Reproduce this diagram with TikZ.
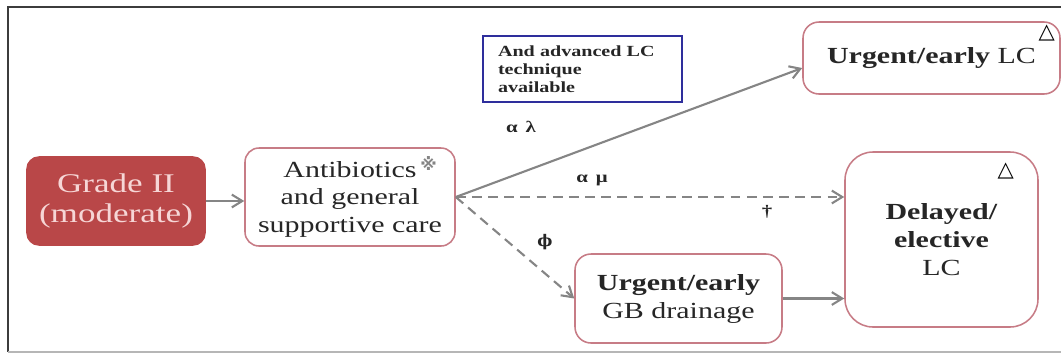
\documentclass[tikz,border=0pt]{standalone}
\usepackage{fontspec}
\setmainfont{Liberation Serif}[FakeStretch=1.3]
\newfontfamily\symfont{DejaVu Sans}
\newfontfamily\phifont{DejaVu Serif}
\usetikzlibrary{arrows.meta, positioning, calc}
\definecolor{cred}{HTML}{B94748}
\definecolor{cpale}{HTML}{F6D6D6}
\definecolor{cpink}{HTML}{C77C86}
\definecolor{cblue}{HTML}{2E2E9C}
\definecolor{cgrey}{HTML}{858585}
\definecolor{cframe}{HTML}{3C3C3C}
\definecolor{ctext}{HTML}{262626}
\tikzset{
  every picture/.style={line width=1.1pt},
  box/.style={draw=#1, fill=white, rounded corners=0.35cm, align=center, inner sep=0pt, text=ctext, font=\fontsize{16.4}{19.9}\selectfont},
  box/.default=cpink,
  arrow/.style={-{Straight Barb[length=2.6mm, width=3.2mm]}, draw=cgrey, line width=1.5pt},
  dasharrow/.style={arrow, dash pattern=on 7pt off 4.5pt},
  note/.style={font=\bfseries\fontsize{11.4}{13}\selectfont, text=ctext},
  sym/.style={font=\symfont\bfseries\fontsize{15}{16}\selectfont, text=black},
}

\begin{document}
\begin{tikzpicture}
  \useasboundingbox (0,0) rectangle (26.525,8.85);
  % frame
  \draw[cframe, line width=1.6pt] (26.525,8.675) -- (0.2,8.675) -- (0.2,0.05);
  \draw[cgrey!60, line width=1pt] (0.2,0.05) -- (26.525,0.05);

  \node[box=cred, fill=cred, text=cpale, font=\fontsize{19.2}{21.3}\selectfont, minimum width=4.45cm, minimum height=2.2cm, rounded corners=0.3cm] (grade) at (2.9,3.825) {Grade II\\(moderate)};
  \node[box, minimum width=5.25cm, minimum height=2.45cm] (anti) at (8.75,3.925) {Antibiotics\rlap{\,\raisebox{0.3em}{\color{cgrey}\symfont\bfseries\fontsize{12}{12}\selectfont ※}}\\and general\\supportive care};
  \node[draw=cblue, line width=1.8pt, minimum height=1.65cm, inner xsep=0.375cm, text width=4.225cm, align=left, text=ctext, font=\bfseries\fontsize{11}{12.8}\selectfont] (tech) at (14.5625,7.125) {And advanced LC\\technique\\available};
  \node[box, minimum width=6.425cm, minimum height=1.8cm, rounded corners=0.4cm] (urglc) at (23.2875,7.4) {\textbf{Urgent/early} LC};
  \node[box, minimum width=4.825cm, minimum height=4.375cm, rounded corners=0.7cm] (delay) at (23.5375,2.8625) {\textbf{Delayed/}\\\textbf{elective}\\LC};
  \node[box, minimum width=5.175cm, minimum height=2.225cm, rounded corners=0.4cm] (gb) at (16.9625,1.3875) {\textbf{Urgent/early}\\GB drainage};

  \node[sym] (tria) at ([shift={(-0.35,-0.3)}]urglc.north east) {△};
  \node[sym] (trib) at ([shift={(-0.825,-0.5)}]delay.north east) {△};

  \draw[arrow] (grade.east) -- (grade.east -| anti.west);
  \draw[arrow] (anti.east) -- ([yshift=-0.25cm]urglc.west);
  \draw[dasharrow] (anti.east) -- (anti.east -| delay.west);
  \draw[dasharrow] (anti.east) -- (gb.west);
  \draw[arrow] (gb.east) -- (gb.east -| delay.west);

  \foreach[count=\k] \x/\y/\t in {13.025/5.675/{α\enspace λ}, 14.8/4.35/{α\enspace μ}, 19.175/3.55/†, 13.625/2.8/{\phifont ϕ}}
    \node[note] (lab\k) at (\x,\y) {\t};
\end{tikzpicture}
\end{document}
